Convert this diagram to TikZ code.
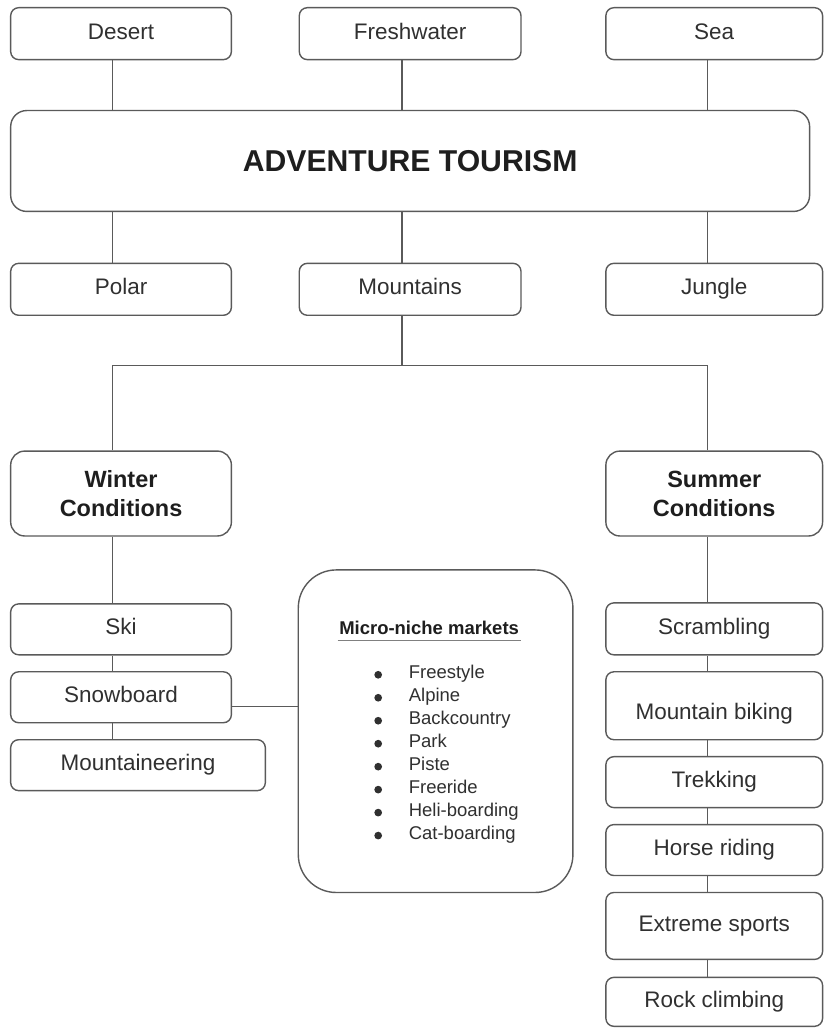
\documentclass[tikz,border=0pt]{standalone}
\usepackage{fontspec}
\setmainfont{Liberation Sans}
\begin{document}
\begin{tikzpicture}[x=1pt,y=-1pt,
  line width=1.4pt,
  every path/.style={draw=linegray},
  box/.style={draw=linegray, line width=1.4pt, rounded corners=8pt, fill=white,
    inner sep=0pt, minimum width=221pt, minimum height=52pt,
    font=\fontsize{22.5}{27}\selectfont, text=textgray,
    text height=16pt, text depth=5pt},
  rbox/.style={box, minimum width=217pt},
  cond/.style={box, font=\fontsize{23.5}{29}\selectfont\bfseries, text=titlegray,
    align=center, minimum height=85pt, rounded corners=14pt,
    text height=, text depth=},
  item/.style={anchor=west, inner sep=0pt, font=\fontsize{18.5}{22}\selectfont,
    text=textgray, text height=13pt, text depth=4pt},
]
\definecolor{linegray}{HTML}{5A5A5A}
\definecolor{textgray}{HTML}{303030}
\definecolor{titlegray}{HTML}{1E1E1E}
\useasboundingbox (0,0) rectangle (825,1029);
\fill[white] (0,0) rectangle (825,1029);

% columns of the connectors
\coordinate (cL) at (112,0);
\coordinate (cM) at (402,0);
\coordinate (cR) at (708,0);
\coordinate (split) at (402,365);

% top row, central box and second row
\node[box] (desert) at (120.5,33) {Desert};
\node[box, minimum width=222pt] (fresh) at (410,33) {Freshwater};
\node[rbox] (sea) at (714.5,33) {Sea};
\node[box, minimum width=800pt, minimum height=101pt, rounded corners=16pt,
  font=\fontsize{30.2}{36}\selectfont\bfseries, text=titlegray,
  text height=22pt, text depth=0pt] (adv) at (410,160.5) {ADVENTURE TOURISM};
\node[box] (polar) at (120.5,289) {Polar};
\node[box, minimum width=222pt] (mount) at (410,289) {Mountains};
\node[rbox] (jungle) at (714.5,289) {Jungle};

\draw (desert.south -| cL) -- (adv.north -| cL);
\draw (fresh.south -| cM) -- (adv.north -| cM);
\draw (sea.south -| cR) -- (adv.north -| cR);
\draw (adv.south -| cL) -- (polar.north -| cL);
\draw (adv.south -| cM) -- (mount.north -| cM);
\draw (adv.south -| cR) -- (jungle.north -| cR);

% conditions
\node[cond] (winter) at (120.5,493.5) {Winter\\Conditions};
\node[cond, minimum width=217pt] (summer) at (714.5,493.5) {Summer\\Conditions};
\draw (mount.south -| cM) -- (split);
\draw (winter.north -| cL) |- (split) -| (summer.north -| cR);

% winter activities
\node[box, minimum height=51pt] (ski) at (120.5,629.5) {Ski};
\node[box, minimum height=51pt] (snow) at (120.5,697.5) {Snowboard};
\node[box, minimum height=51pt, minimum width=255pt] (mtneer) at (137.5,765.5) {Mountaineering};
\draw (winter.south -| cL) -- (ski.north -| cL);
\draw (ski.south -| cL) -- (snow.north -| cL);
\draw (snow.south -| cL) -- (mtneer.north -| cL);

% micro-niche markets
\node[draw=linegray, line width=1.4pt, rounded corners=38pt, inner sep=0pt,
  minimum width=275pt, minimum height=323pt] (micro) at (435.5,731.5) {};
\node[inner sep=0pt, font=\fontsize{18.5}{22}\selectfont\bfseries, text=titlegray]
  (mtitle) at (429,628) {Micro-niche markets};
\draw[line width=1pt, draw=gray] ([xshift=-1pt,yshift=-5pt]mtitle.south west)
  -- ([xshift=1pt,yshift=-5pt]mtitle.south east);
\foreach \t [count=\i] in {Freestyle,Alpine,Backcountry,Park,Piste,Freeride,Heli-boarding,Cat-boarding}{
  \node[item] (li\i) at (408,651+23*\i) {\t};
  \fill[textgray] (378,652+23*\i) circle (3.1pt);
}
\draw ([yshift=-9.5pt]snow.east) coordinate (sb) -- (sb -| micro.west);

% summer activities
\node[rbox] (scr) at (714.5,629) {Scrambling};
\node[rbox, minimum height=68pt] (mbike) at (714.5,706) {\raisebox{-8pt}{Mountain biking}};
\node[rbox, minimum height=51pt] (trek) at (714.5,782.5) {Trekking};
\node[rbox, minimum height=51pt] (horse) at (714.5,850.5) {Horse riding};
\node[rbox, minimum height=67pt] (ext) at (714.5,926.5) {Extreme sports};
\node[rbox, minimum height=49pt] (rock) at (714.5,1002.5) {Rock climbing};
\draw (summer.south -| cR) -- (scr.north -| cR);
\draw (scr.south -| cR) -- (mbike.north -| cR);
\draw (mbike.south -| cR) -- (trek.north -| cR);
\draw (trek.south -| cR) -- (horse.north -| cR);
\draw (horse.south -| cR) -- (ext.north -| cR);
\draw (ext.south -| cR) -- (rock.north -| cR);
\end{tikzpicture}
\end{document}
